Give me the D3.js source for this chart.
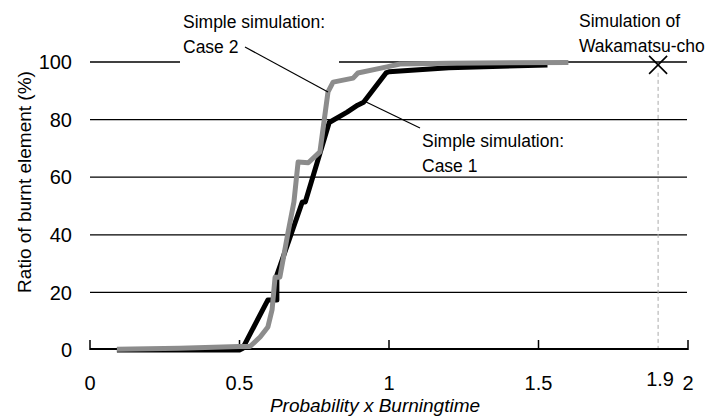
<!DOCTYPE html>
<html>
<head>
<meta charset="utf-8">
<script src="https://cdn.jsdelivr.net/npm/d3@7"></script>
<style>
  body { margin: 0; background: #fff; }
  svg { display: block; font-family: "Liberation Sans", Arial, sans-serif; }
</style>
</head>
<body>
<div id="chart"></div>
<script>
// data
var xTicks = [0, 0.5, 1, 1.5, 2];
var yTicks = [0, 20, 40, 60, 80, 100];

// Simple simulation: Case 1 (black)
var case1X = [0.09, 0.5, 0.51, 0.595, 0.625, 0.625, 0.71, 0.72, 0.80, 0.86, 0.895, 0.915, 0.99, 1.0, 1.2, 1.53];
var case1Y = [0, 0, 0.5, 17.4, 17.4, 26, 51.4, 51.4, 79, 82.6, 85, 86, 96.2, 96.6, 98, 99];

// Simple simulation: Case 2 (grey)
var case2X = [0.09, 0.3, 0.5, 0.535, 0.569, 0.595, 0.609, 0.619, 0.635, 0.662, 0.682, 0.696, 0.73, 0.769, 0.796, 0.813, 0.88, 0.896, 0.993, 1.037, 1.2, 1.6];
var case2Y = [0.3, 0.6, 1.2, 1.2, 4.5, 8, 14, 25.3, 25.3, 40.6, 51.4, 65.3, 65, 68.8, 89.6, 93, 94.4, 96.2, 98.3, 99.3, 99.6, 99.8];

// Simulation of Wakamatsu-cho
var wakaX = [1.9];
var wakaY = [99];

var width = 711, height = 416;

var svg = d3.select("#chart").append("svg")
    .attr("width", width)
    .attr("height", height);

var x = d3.scaleLinear().domain([0, 2]).range([90, 688]);
var y = d3.scaleLinear().domain([0, 100]).range([350, 62]);

// gridlines
svg.append("g").selectAll("line")
    .data(yTicks.filter(function(d) { return d > 0; }))
    .enter().append("line")
    .attr("x1", x(0)).attr("x2", x(2) - 1)
    .attr("y1", function(d) { return y(d); })
    .attr("y2", function(d) { return y(d); })
    .attr("stroke", "#000")
    .attr("stroke-width", 1.3);

// x axis line + upward ticks
svg.append("line")
    .attr("x1", x(0)).attr("x2", x(2))
    .attr("y1", y(0) - 1).attr("y2", y(0) - 1)
    .attr("stroke", "#000").attr("stroke-width", 2);

svg.append("g").selectAll("line")
    .data(xTicks)
    .enter().append("line")
    .attr("x1", function(d) { return x(d); })
    .attr("x2", function(d) { return x(d); })
    .attr("y1", y(0)).attr("y2", y(0) - 10)
    .attr("stroke", "#000").attr("stroke-width", 1.5);

// white box behind the Case 2 note (it breaks the 100 gridline)
svg.append("rect")
    .attr("x", 180).attr("y", 8)
    .attr("width", 159).attr("height", 56)
    .attr("fill", "#fff");

// tick labels
svg.append("g").selectAll("text")
    .data(yTicks)
    .enter().append("text")
    .attr("x", x(0) - 18)
    .attr("y", function(d) { return y(d); })
    .attr("dy", "0.36em")
    .attr("text-anchor", "end")
    .attr("font-size", 20)
    .text(function(d) { return d; });

svg.append("g").selectAll("text")
    .data(xTicks)
    .enter().append("text")
    .attr("x", function(d) { return x(d); })
    .attr("y", y(0) + 40)
    .attr("text-anchor", "middle")
    .attr("font-size", 20)
    .text(function(d) { return d; });

svg.append("text")
    .attr("x", x(wakaX[0]) + 2)
    .attr("y", y(0) + 36)
    .attr("text-anchor", "middle")
    .attr("font-size", 20)
    .text(wakaX[0]);

// axis titles
svg.append("text")
    .attr("x", 375).attr("y", 412)
    .attr("text-anchor", "middle")
    .attr("font-size", 19)
    .attr("font-style", "italic")
    .text("Probability x Burningtime");

svg.append("text")
    .attr("transform", "translate(31,182) rotate(-90)")
    .attr("text-anchor", "middle")
    .attr("font-size", 19)
    .text("Ratio of burnt element (%)");

// series
var line = d3.line()
    .x(function(d) { return x(d[0]); })
    .y(function(d) { return y(d[1]); });

svg.append("path")
    .datum(d3.zip(case1X, case1Y))
    .attr("d", line)
    .attr("fill", "none")
    .attr("stroke", "#000")
    .attr("stroke-width", 5)
    .attr("stroke-linejoin", "round");

svg.append("path")
    .datum(d3.zip(case2X, case2Y))
    .attr("d", line)
    .attr("fill", "none")
    .attr("stroke", "#8c8c8c")
    .attr("stroke-width", 5)
    .attr("stroke-linejoin", "round");

// Wakamatsu-cho point: dashed drop line and X marker
svg.append("line")
    .attr("x1", x(wakaX[0])).attr("x2", x(wakaX[0]))
    .attr("y1", y(wakaY[0]) + 8).attr("y2", y(0) - 2)
    .attr("stroke", "#aaa").attr("stroke-width", 1)
    .attr("stroke-dasharray", "4,3");

svg.append("path")
    .datum([wakaX[0], wakaY[0]])
    .attr("transform", function(d) { return "translate(" + x(d[0]) + "," + y(d[1]) + ")"; })
    .attr("d", "M-9,-9L9,9M-9,9L9,-9")
    .attr("stroke", "#000").attr("stroke-width", 1.6)
    .attr("fill", "none");

// leader lines
svg.append("line")
    .attr("x1", 245).attr("y1", 47)
    .attr("x2", x(0.796)).attr("y2", y(89.6))
    .attr("stroke", "#000").attr("stroke-width", 1.2);

svg.append("line")
    .attr("x1", x(0.92)).attr("y1", y(86.3))
    .attr("x2", 420).attr("y2", 128)
    .attr("stroke", "#000").attr("stroke-width", 1.2);

// notes
function note(xp, yp, lines) {
    var t = svg.append("text")
        .attr("x", xp).attr("y", yp)
        .attr("font-size", 17.5);
    lines.forEach(function(s, i) {
        t.append("tspan").attr("x", xp).attr("dy", i ? 25 : 0).text(s);
    });
}
note(183, 28, ["Simple simulation:", "Case 2"]);
note(422, 147, ["Simple simulation:", "Case 1"]);
note(579, 27, ["Simulation of", "Wakamatsu-cho"]);
</script>
</body>
</html>
